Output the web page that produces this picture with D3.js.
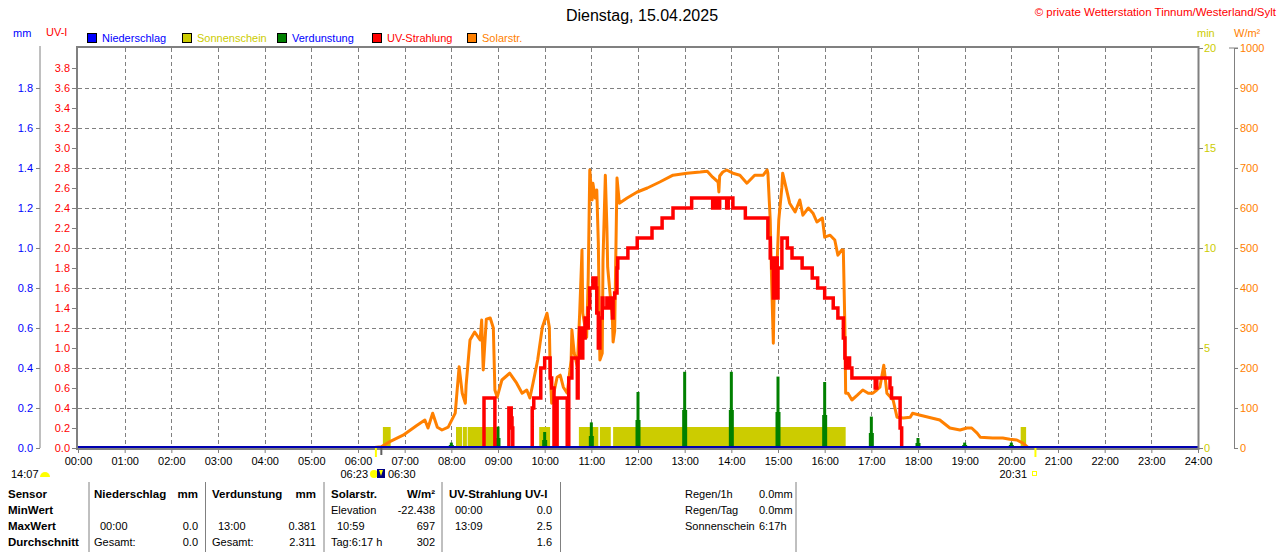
<!DOCTYPE html>
<html><head><meta charset="utf-8">
<script src="https://cdn.jsdelivr.net/npm/d3@7"></script>
<style>body{margin:0;background:#fff;} svg{display:block;font-family:"Liberation Sans",Arial,sans-serif;}</style>
</head><body><svg id="c" width="1280" height="552"></svg>
<script>
// ---------- DATA ----------
const hourTicks = d3.range(0, 25); // hours 00..24
const uvTicks = [0,0.2,0.4,0.6,0.8,1.0,1.2,1.4,1.6,1.8,2.0,2.2,2.4,2.6,2.8,3.0,3.2,3.4,3.6,3.8];
const mmTicks = [0,0.2,0.4,0.6,0.8,1.0,1.2,1.4,1.6,1.8];
const minTicks = [0,5,10,15,20];
const wTicks = [0,100,200,300,400,500,600,700,800,900,1000];
const gridUV = [0.4,0.8,1.2,1.6,2.0,2.4,2.8,3.2,3.6];

// Solar radiation [minute of day, W/m²]
const solar = [[375,0],[390,3],[401,16],[418,32],[436,57],[446,70],[450,50],[456,87],[462,52],[468,45],[476,52],[485,87],
[490,203],[494,137],[498,112],[499,157],[504,270],[510,290],[517,270],[519,320],[521,195],[525,322],[530,325],[534,300],
[536,145],[539,127],[545,170],[555,187],[564,162],[571,137],[577,145],[581,125],[585,162],[591,220],[597,302],[603,337],
[606,302],[607,203],[609,112],[616,177],[620,182],[624,152],[629,137],[634,220],[635,295],[638,237],[642,203],[645,337],
[648,495],[649,337],[654,277],[656,427],[658,695],[661,620],[662,662],[665,625],[667,645],[669,512],[671,220],[674,237],
[675,470],[678,682],[680,552],[681,452],[684,387],[687,327],[688,265],[690,293],[693,675],[696,612],[706,625],[719,640],
[732,650],[748,665],[765,682],[783,687],[800,690],[809,692],[816,677],[823,665],[824,640],[825,680],[829,690],[834,695],
[842,687],[851,682],[860,662],[870,682],[881,682],[886,695],[887,687],[890,570],[892,402],[894,262],[895,387],[899,470],
[901,570],[905,652],[906,687],[912,637],[915,612],[922,590],[928,620],[932,582],[939,600],[945,587],[950,565],[957,575],
[960,527],[967,532],[973,520],[977,482],[982,495],[984,495],[986,302],[987,137],[990,137],[995,120],[1002,132],[1009,145],
[1016,137],[1022,137],[1027,145],[1031,152],[1036,207],[1040,137],[1048,120],[1053,77],[1061,75],[1070,77],[1073,87],
[1083,82],[1108,70],[1121,50],[1134,45],[1143,50],[1149,50],[1156,37],[1160,27],[1176,25],[1189,25],[1198,22],[1207,20],
[1215,12],[1221,2],[1224,0]];

// UV index [minute of day, UV-I]
const uv = [[0,0],[522,0.5],[536,0],[554,0.4],[557,0.3],[558,0.2],[559,0],[584,0.4],[586,0.5],[595,0.8],[600,0.9],[606,0.9],
[607,0.7],[609,0.6],[612,0],[616,0.5],[626,0.5],[629,0],[631,0.7],[635,0.9],[642,0.5],[643,0.9],[645,1.2],[648,0.9],
[649,1.1],[652,1.3],[654,1.2],[656,1.4],[658,1.6],[662,1.7],[666,1.6],[667,1.35],[669,1.0],[671,1.3],[674,1.5],[675,1.4],
[680,1.5],[684,1.4],[687,1.3],[688,1.5],[690,1.55],[693,1.8],[694,1.9],[707,2.0],[719,2.1],[738,2.2],[751,2.3],[765,2.4],
[789,2.5],[816,2.4],[820,2.5],[823,2.4],[825,2.5],[834,2.4],[836,2.5],[842,2.4],[858,2.3],[887,2.1],[890,1.9],[892,1.8],
[894,1.5],[896,1.9],[899,1.5],[900,1.8],[905,2.1],[912,2.0],[918,1.9],[931,1.8],[944,1.7],[951,1.6],[960,1.5],[971,1.4],
[977,1.3],[984,1.1],[986,0.9],[987,0.8],[990,0.9],[992,0.8],[995,0.7],[1025,0.6],[1027,0.7],[1044,0.6],[1046,0.5],
[1057,0.2],[1059,0],[1440,0]];

// Evaporation (mm) per hour: peak and shoulder values
const evapHours = [8,9,10,11,12,13,14,15,16,17,18,19,20];
const evapPeak  = [0.027,0.107,0.08,0.128,0.28,0.381,0.381,0.357,0.33,0.157,0.05,0.027,0.027];
const evapBase  = [0.015,0.05,0.04,0.06,0.14,0.19,0.19,0.18,0.165,0.075,0.025,0.015,0.015];

// Sunshine intervals [start min, end min]
const sunshine = [[392,402],[486,494],[495,500],[501,540],[593,607],[644,669],[671,685],[688,987],[1212,1219]];
const sunshineLevel = 1.05; // min

// Precipitation (mm)
const precip = [[0,0],[1440,0]];

const sunrise = 383, civil = 390, sunset = 1231;

const legendItems = ["Niederschlag","Sonnenschein","Verdunstung","UV-Strahlung","Solarstr."];
const legendBox = ["#0000ff","#cccc00","#008000","#ff0000","#ff8000"];
const legendText = ["#0000ff","#cccc00","#0000ff","#ff0000","#ff8000"];

const tableRows = ["Sensor","MinWert","MaxWert","Durchschnitt"];
const tableHeader = [["Niederschlag","mm"],["Verdunstung","mm"],["Solarstr.","W/m²"],["UV-Strahlung","UV-I"]];
const tableCells = [
  [["",""],["",""],["Elevation","-22.438"],["00:00","0.0"]],
  [[" 00:00","0.0"],[" 13:00","0.381"],[" 10:59","697"],["13:09","2.5"]],
  [["Gesamt:","0.0"],["Gesamt:","2.311"],["Tag:6:17 h","302"],["","1.6"]]
];
const sideLabels = ["Regen/1h","Regen/Tag","Sonnenschein"];
const sideValues = ["0.0mm","0.0mm","6:17h"];

// ---------- DRAW ----------
const svg = d3.select("#c");
const L = 78, R = 1198, T = 48, B = 448;
const x = d3.scaleLinear().domain([0, 1440]).range([L, R]);
const yUV = d3.scaleLinear().domain([0, 4]).range([B, T]);
const yMM = d3.scaleLinear().domain([0, 2]).range([B, T]);
const yMin = d3.scaleLinear().domain([0, 20]).range([B, T]);
const yW = d3.scaleLinear().domain([0, 1000]).range([B, T]);
const gray = "#808080";
const FS = 11;

svg.append("rect").attr("width",1280).attr("height",552).attr("fill","#fff");

// title
svg.append("text").attr("x",642).attr("y",15).attr("text-anchor","middle").attr("dominant-baseline","central")
  .attr("font-size",16).attr("fill","#000").text("Dienstag, 15.04.2025");
svg.append("text").attr("x",1276).attr("y",12).attr("text-anchor","end").attr("dominant-baseline","central")
  .attr("font-size",11.5).attr("fill","#ff0000").text("© private Wetterstation Tinnum/Westerland/Sylt");

// unit labels
svg.append("text").attr("x",13).attr("y",33).attr("dominant-baseline","central").attr("font-size",FS).attr("fill","#0000ff").text("mm");
svg.append("text").attr("x",46).attr("y",32).attr("dominant-baseline","central").attr("font-size",FS).attr("fill","#ff0000").text("UV-I");
svg.append("text").attr("x",1197).attr("y",33).attr("dominant-baseline","central").attr("font-size",FS).attr("fill","#cccc00").text("min");
svg.append("text").attr("x",1234).attr("y",33).attr("dominant-baseline","central").attr("font-size",FS).attr("fill","#ff8000").text("W/m²");

// legend
const lg = svg.append("g");
legendItems.forEach((name,i)=>{
  const bx = 87 + i*95;
  lg.append("rect").attr("x",bx+0.5).attr("y",33.5).attr("width",9).attr("height",9)
    .attr("fill",legendBox[i]).attr("stroke","#000").attr("stroke-width",1);
  lg.append("text").attr("x",bx+15).attr("y",38).attr("dominant-baseline","central")
    .attr("font-size",FS).attr("fill",legendText[i]).text(name);
});

// grid
const grid = svg.append("g").attr("stroke",gray).attr("stroke-width",1).attr("stroke-dasharray","4,3");
gridUV.forEach(v=>grid.append("line").attr("x1",L).attr("x2",R).attr("y1",Math.round(yUV(v))+0.5).attr("y2",Math.round(yUV(v))+0.5));
hourTicks.slice(1,24).forEach(h=>grid.append("line").attr("x1",Math.round(x(h*60))+0.5).attr("x2",Math.round(x(h*60))+0.5).attr("y1",T).attr("y2",B));

const plot = svg.append("g");
svg.append("clipPath").attr("id","clip").append("rect").attr("x",L).attr("y",T).attr("width",R-L).attr("height",B-T);
plot.attr("clip-path","url(#clip)");

// sunshine bars
plot.append("g").selectAll("rect").data(sunshine).join("rect")
  .attr("x",d=>x(d[0])).attr("width",d=>x(d[1])-x(d[0]))
  .attr("y",yMin(sunshineLevel)).attr("height",B-yMin(sunshineLevel)).attr("fill","#cccc00");

// evaporation bars
const eg = plot.append("g").attr("fill","#008000");
evapHours.forEach((h,i)=>{
  const cx = x(h*60);
  eg.append("rect").attr("x",cx-2.5).attr("width",5).attr("y",yMM(evapBase[i])).attr("height",B-yMM(evapBase[i]));
  eg.append("rect").attr("x",cx-1.5).attr("width",3).attr("y",yMM(evapPeak[i])).attr("height",B-yMM(evapPeak[i]));
});

// solar
plot.append("path").datum(solar)
  .attr("d",d3.line().x(d=>x(d[0])).y(d=>yW(d[1])))
  .attr("fill","none").attr("stroke","#ff8000").attr("stroke-width",3).attr("stroke-linejoin","round");

// UV
plot.append("path").datum(uv)
  .attr("d",d3.line().x(d=>x(d[0])).y(d=>yUV(d[1])).curve(d3.curveStepAfter))
  .attr("fill","none").attr("stroke","#ff0000").attr("stroke-width",3.5);

// precipitation baseline
plot.append("path").datum(precip)
  .attr("d",d3.line().x(d=>x(d[0])).y(d=>yMM(d[1])-1))
  .attr("fill","none").attr("stroke","#0000b0").attr("stroke-width",2);

// frame
svg.append("rect").attr("x",L-1).attr("y",T-1).attr("width",R-L+1.5).attr("height",B-T+2)
  .attr("fill","none").attr("stroke",gray).attr("stroke-width",2);

function styleAxis(g, color){
  g.selectAll("text").attr("fill",color).attr("font-size",FS).attr("font-family","Liberation Sans, Arial, sans-serif");
  g.selectAll("line").attr("stroke",gray);
  g.selectAll("path").attr("stroke",gray);
}
// mm axis
const gmm = svg.append("g").attr("transform","translate(40,0)")
  .call(d3.axisLeft(yMM).tickValues(mmTicks).tickFormat(d3.format(".1f")).tickSize(4).tickSizeOuter(0).tickPadding(3));
styleAxis(gmm,"#0000ff");
gmm.select(".domain").attr("d",`M0,${T-2}V${B}`);
// UV axis
const guv = svg.append("g").attr("transform",`translate(${L-1},0)`)
  .call(d3.axisLeft(yUV).tickValues(uvTicks).tickFormat(d3.format(".1f")).tickSize(5).tickSizeOuter(0).tickPadding(2));
styleAxis(guv,"#ff0000"); guv.select(".domain").remove();
// x axis
const gx = svg.append("g").attr("transform",`translate(0,${B+1})`)
  .call(d3.axisBottom(x).tickValues(hourTicks.map(h=>h*60)).tickFormat(m=>d3.format("02d")(m/60)+":00").tickSize(4).tickSizeOuter(0).tickPadding(4));
styleAxis(gx,"#000"); gx.select(".domain").remove();
// min axis
const gmin = svg.append("g").attr("transform",`translate(${R},0)`)
  .call(d3.axisRight(yMin).tickValues(minTicks).tickSize(5).tickSizeOuter(0).tickPadding(1));
styleAxis(gmin,"#cccc00"); gmin.select(".domain").remove();
// W axis
const gw = svg.append("g").attr("transform","translate(1234,0)")
  .call(d3.axisRight(yW).tickValues(wTicks).tickFormat(d3.format("d")).tickSize(4).tickSizeOuter(0).tickPadding(2));
styleAxis(gw,"#ff8000");
gw.append("line").attr("x1",-5).attr("x2",4).attr("y1",T).attr("y2",T).attr("stroke",gray);

// sunrise / sunset markers
svg.append("line").attr("x1",x(sunrise)).attr("x2",x(sunrise)).attr("y1",B).attr("y2",B+9).attr("stroke","#ffff00").attr("stroke-width",2);
svg.append("line").attr("x1",x(civil)).attr("x2",x(civil)).attr("y1",B).attr("y2",B+7).attr("stroke","#606060").attr("stroke-width",2);
svg.append("line").attr("x1",x(sunset)).attr("x2",x(sunset)).attr("y1",B).attr("y2",B+9).attr("stroke","#ffff00").attr("stroke-width",2);

const mk = svg.append("g").attr("font-size",FS).attr("dominant-baseline","central").attr("fill","#000");
mk.append("text").attr("x",368).attr("y",474).attr("text-anchor","end").text("06:23");
mk.append("text").attr("x",388).attr("y",474).text("06:30");
mk.append("text").attr("x",1027).attr("y",474).attr("text-anchor","end").text("20:31");
mk.append("text").attr("x",11).attr("y",474).text("14:07");
svg.append("circle").attr("cx",374).attr("cy",474).attr("r",4).attr("fill","#ffff00");
svg.append("rect").attr("x",377).attr("y",469).attr("width",8).attr("height",9).attr("fill","#000080");
svg.append("path").attr("d","M379,470 L383,470 L381,476 Z").attr("fill","#ffff00");
svg.append("rect").attr("x",1032.5).attr("y",471.5).attr("width",4).attr("height",4).attr("fill","none").attr("stroke","#ffff00");
svg.append("path").attr("d","M40,477 A5,5 0 0 1 50,477 Z").attr("fill","#ffff00");

// table
const tb = svg.append("g").attr("font-size",FS).attr("dominant-baseline","central").attr("fill","#000");
const rowY = [494,510,526,542];
tableRows.forEach((r,i)=>tb.append("text").attr("x",8).attr("y",rowY[i]).attr("font-weight","bold").attr("font-size",11.5).text(r));
const colL = [94,212,331,449], colR = [198,316,435,552];
tableHeader.forEach((h,j)=>{
  if(j<3){
    tb.append("text").attr("x",colL[j]).attr("y",rowY[0]).attr("font-weight","bold").attr("font-size",11.5).text(h[0]);
    tb.append("text").attr("x",colR[j]).attr("y",rowY[0]).attr("text-anchor","end").attr("font-weight","bold").attr("font-size",11.5).text(h[1]);
  } else {
    tb.append("text").attr("x",colL[j]).attr("y",rowY[0]).attr("font-weight","bold").attr("font-size",11.5).text(h[0]+" "+h[1]);
  }
});
tableCells.forEach((row,i)=>{
  row.forEach((c,j)=>{
    const lx = (c[0].startsWith(" ")) ? colL[j]+6 : (j===3 ? 455 : colL[j]);
    if(c[0]) tb.append("text").attr("x",lx).attr("y",rowY[i+1]).text(c[0].trim());
    if(c[1]) tb.append("text").attr("x",colR[j]).attr("y",rowY[i+1]).attr("text-anchor","end").text(c[1]);
  });
});
sideLabels.forEach((s,i)=>{
  tb.append("text").attr("x",685).attr("y",rowY[i]).text(s);
  tb.append("text").attr("x",759).attr("y",rowY[i]).text(sideValues[i]);
});
const seps = [89,205.5,324,442,560.5,796];
seps.forEach(sx=>svg.append("line").attr("x1",sx).attr("x2",sx).attr("y1",482).attr("y2",552).attr("stroke",gray).attr("stroke-width",1));
</script></body></html>
